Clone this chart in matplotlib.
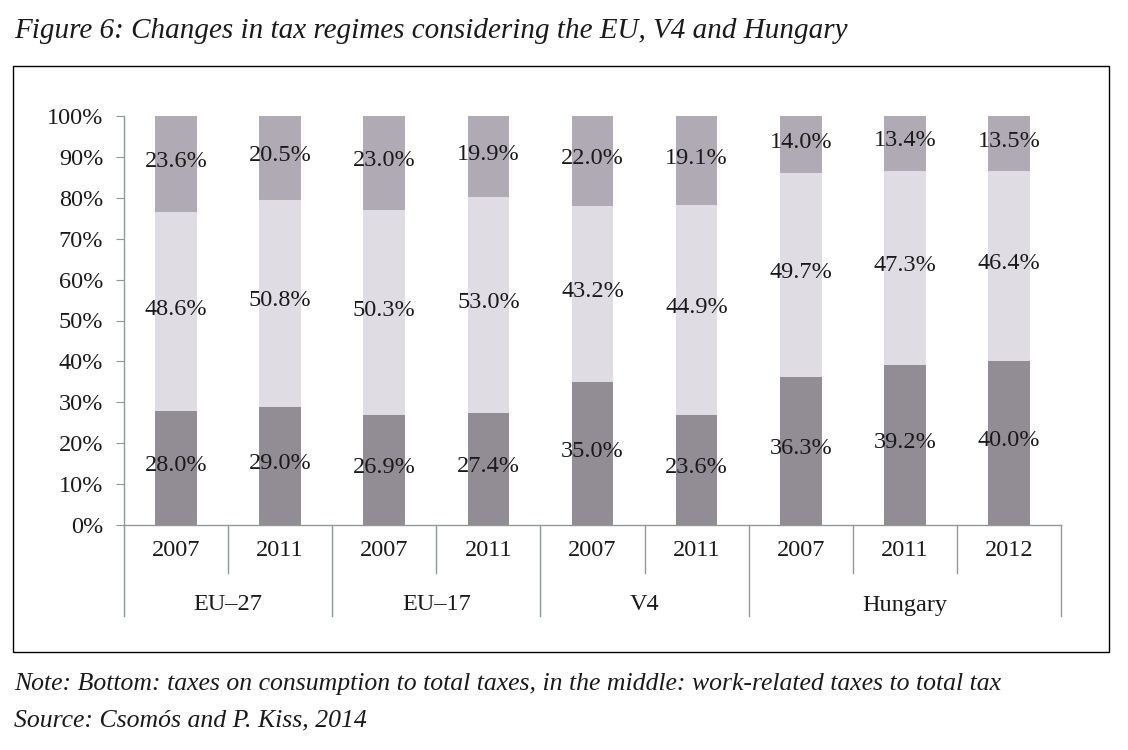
import matplotlib.pyplot as plt
from matplotlib.patches import Rectangle
import numpy as np

# data (shares of total taxes, %)
groups = ['EU\u201327', 'EU\u201317', 'V4', 'Hungary']
group_sizes = [2, 2, 2, 3]
years = ['2007', '2011', '2007', '2011', '2007', '2011', '2007', '2011', '2012']
consumption = [28.0, 29.0, 26.9, 27.4, 35.0, 23.6, 36.3, 39.2, 40.0]
work = [48.6, 50.8, 50.3, 53.0, 43.2, 44.9, 49.7, 47.3, 46.4]
other = [23.6, 20.5, 23.0, 19.9, 22.0, 19.1, 14.0, 13.4, 13.5]

W, H = 1128, 750
plt.rcParams['font.family'] = ['Liberation Serif', 'DejaVu Serif']

fig = plt.figure(figsize=(W / 100, H / 100), dpi=100)
fig.patch.set_facecolor('white')

# outer frame
fig.add_artist(Rectangle((13 / W, 1 - 652 / H), (1109 - 13) / W, (652 - 66) / H,
                         transform=fig.transFigure, fill=False,
                         edgecolor='black', linewidth=1.0))

ax = fig.add_axes([124 / W, 1 - 525 / H, (1061 - 124) / W, (525 - 116) / H])

axis_col = '#8d9a96'
c_bottom = '#928d94'
c_mid = '#dfdde3'
c_top = '#b0aab5'
txt = '#1a1a1a'

cons = np.array(consumption)
wrk = np.array(work)
oth = np.array(other)
tot = cons + wrk + oth
b = cons / tot * 100
m = wrk / tot * 100
t = oth / tot * 100

x = np.arange(len(years))
bw = 0.4
ax.bar(x, b, bw, color=c_bottom, linewidth=0)
ax.bar(x, m, bw, bottom=b, color=c_mid, linewidth=0)
ax.bar(x, t, bw, bottom=b + m, color=c_top, linewidth=0)

lab_kw = dict(ha='center', va='center', fontsize=17.5, color=txt)
for i in range(len(years)):
    ax.text(x[i], b[i] / 2 + 0.6, f'{consumption[i]:.1f}%', **lab_kw)
    ax.text(x[i], b[i] + m[i] / 2 + 0.6, f'{work[i]:.1f}%', **lab_kw)
    ax.text(x[i], b[i] + m[i] + t[i] / 2 + 0.6, f'{other[i]:.1f}%', **lab_kw)

ax.set_xlim(-0.5, len(years) - 0.5)
ax.set_ylim(0, 100)
ax.set_yticks(np.arange(0, 101, 10))
ax.set_yticklabels([f'{v}%' for v in range(0, 101, 10)], fontsize=17.5, color=txt)
ax.tick_params(axis='y', direction='out', length=6, color=axis_col, pad=9)
ax.set_xticks([])
for s in ['top', 'right']:
    ax.spines[s].set_visible(False)
for s in ['left', 'bottom']:
    ax.spines[s].set_color(axis_col)
    ax.spines[s].set_linewidth(1.0)

# multi-level category axis
tr = ax.get_xaxis_transform()
ph = 525 - 116
y_year = -(551 - 525) / ph
y_grp = -(605 - 525) / ph
y_short = -(573 - 525) / ph
y_long = -(616 - 525) / ph
for i, yr in enumerate(years):
    ax.text(x[i], y_year, yr, transform=tr, ha='center', va='center',
            fontsize=17.5, color=txt)
edges = np.cumsum([0] + group_sizes) - 0.5
for e in edges:
    ax.plot([e, e], [0, y_long], transform=tr, color=axis_col, lw=1.0, clip_on=False)
for k, g in enumerate(groups):
    start, end = edges[k], edges[k + 1]
    for e in np.arange(start + 1, end):
        ax.plot([e, e], [0, y_short], transform=tr, color=axis_col, lw=1.0, clip_on=False)
    ax.text((start + end) / 2, y_grp, g, transform=tr, ha='center', va='center',
            fontsize=17.5, color=txt)

# title and notes
fig.text(14 / W, 1 - 31 / H, 'Figure 6: Changes in tax regimes considering the EU, V4 and Hungary',
         ha='left', va='center', fontsize=21, style='italic', color=txt)
fig.text(14 / W, 1 - 684 / H,
         'Note: Bottom: taxes on consumption to total taxes, in the middle: work-related taxes to total tax',
         ha='left', va='center', fontsize=18.5, style='italic', color=txt)
fig.text(14 / W, 1 - 720 / H, 'Source: Csomós and P. Kiss, 2014',
         ha='left', va='center', fontsize=18.5, style='italic', color=txt)

fig.savefig('out.png', dpi=100, facecolor='white')
